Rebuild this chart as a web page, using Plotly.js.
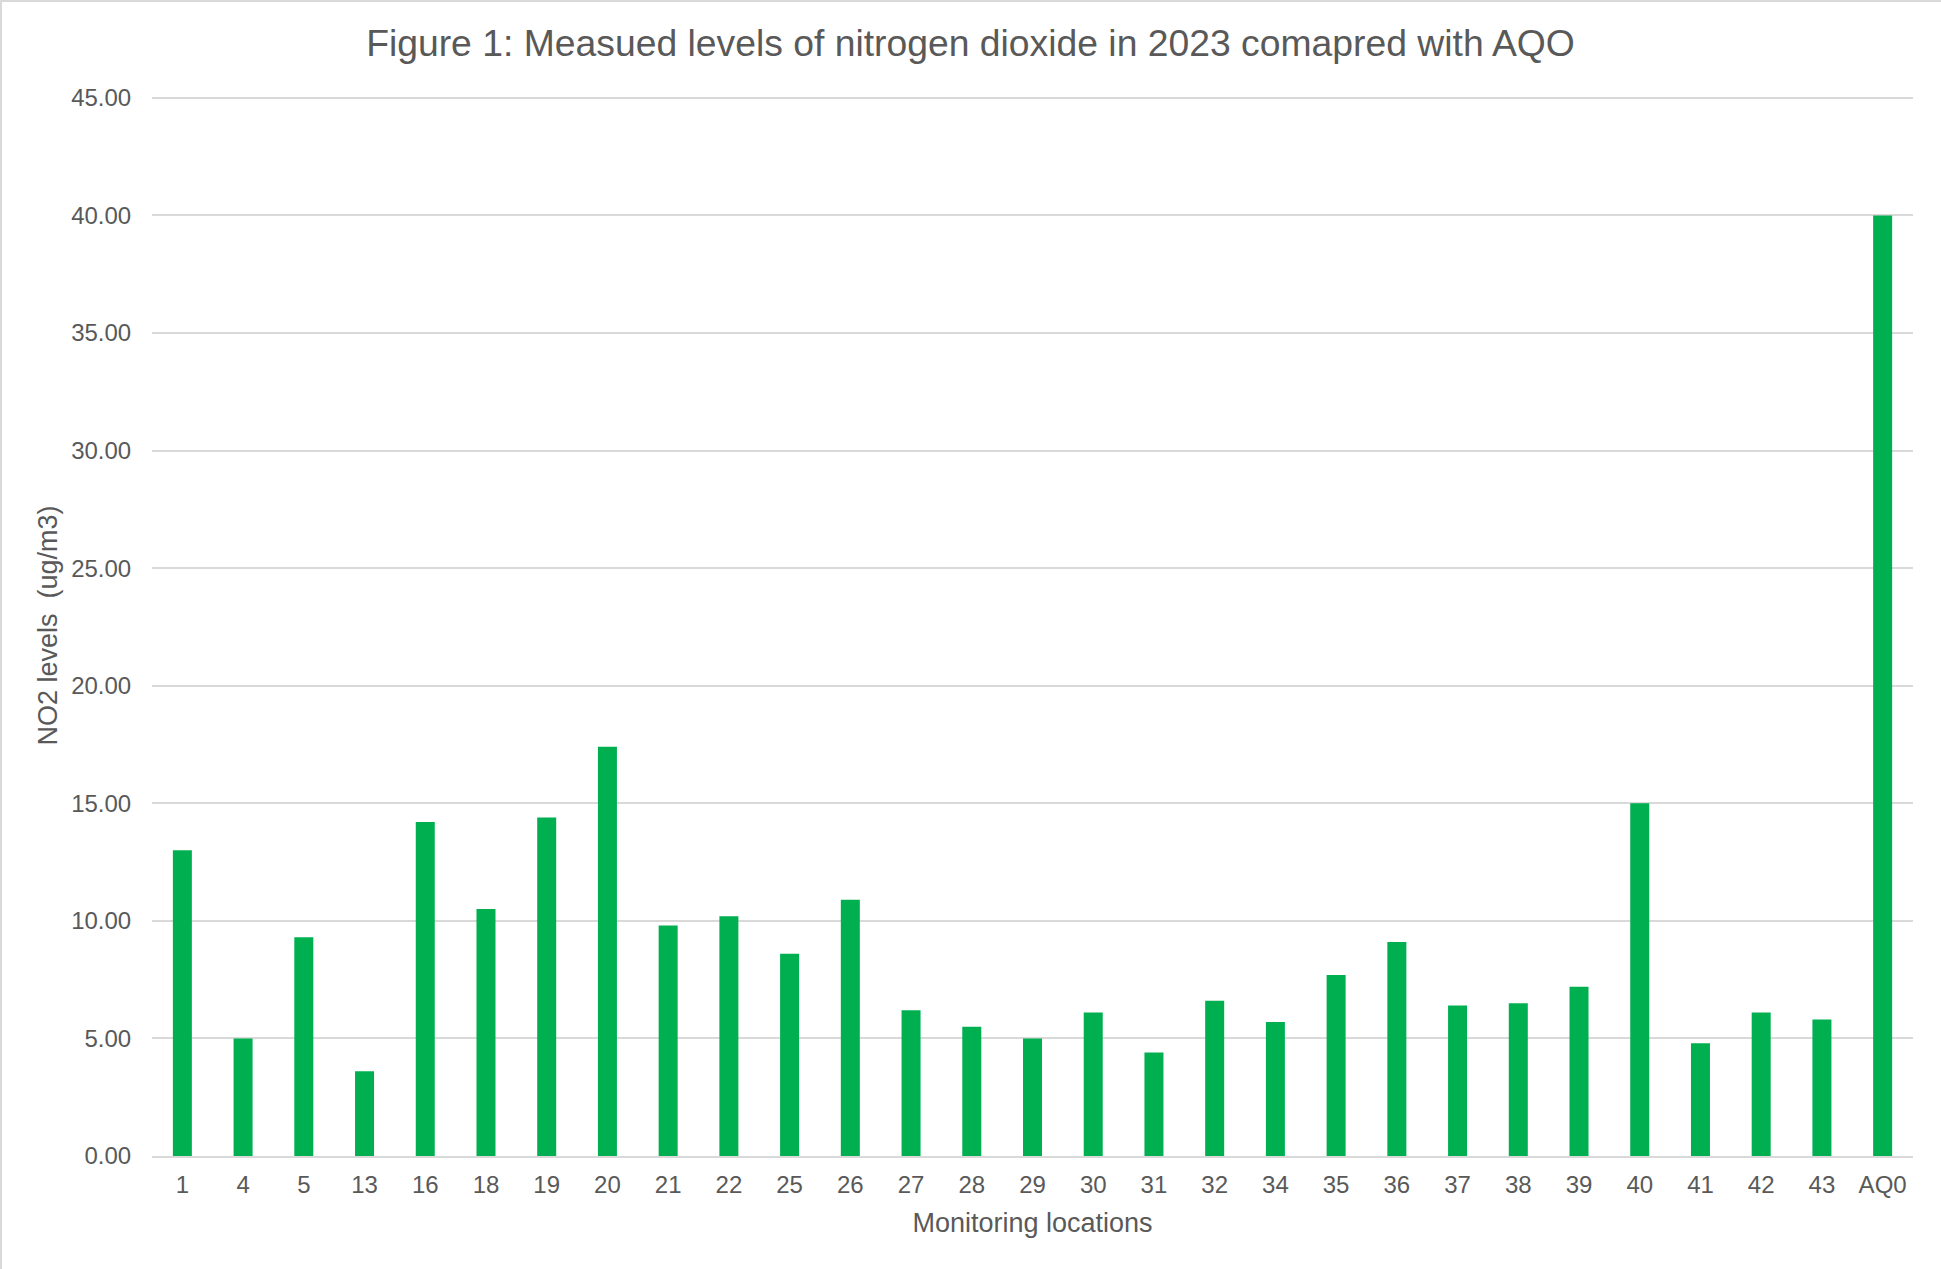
<!DOCTYPE html>
<html>
<head>
<meta charset="utf-8">
<script src="https://cdn.plot.ly/plotly-3.0.1.min.js"></script>
<style>
  html, body { margin: 0; padding: 0; background: #ffffff; }
  #wrap { position: relative; width: 1941px; height: 1269px; }
  #chart { position: absolute; left: 0; top: 0; width: 1941px; height: 1269px; }
  #frame { position: absolute; left: 0; top: 0; width: 1941px; height: 1269px;
           border-left: 2px solid #D9D9D9; border-top: 2px solid #D9D9D9;
           box-sizing: border-box; pointer-events: none; }
</style>
</head>
<body>
<div id="wrap">
  <div id="chart"></div>
  <div id="frame"></div>
</div>
<script>
const locations = ["1","4","5","13","16","18","19","20","21","22","25","26","27","28","29","30","31","32","34","35","36","37","38","39","40","41","42","43","AQ0"];
const no2Levels = [13.0,5.0,9.3,3.6,14.2,10.5,14.4,17.4,9.8,10.2,8.6,10.9,6.2,5.5,5.0,6.1,4.4,6.6,5.7,7.7,9.1,6.4,6.5,7.2,15.0,4.8,6.1,5.8,40.0];
const yTicks = [0,5,10,15,20,25,30,35,40,45];
const yTickText = yTicks.map(v => v.toFixed(2));

const FONT = "Liberation Sans, Arial, sans-serif";
const TXT = "#595959";

const trace = {
  type: "bar",
  x: locations,
  y: no2Levels,
  marker: { color: "#00B050", line: { width: 0 } },
  hoverinfo: "x+y"
};

const layout = {
  width: 1941,
  height: 1269,
  paper_bgcolor: "#ffffff",
  plot_bgcolor: "#ffffff",
  margin: { l: 152, r: 28, t: 94.6, b: 113, pad: 0 },
  bargap: 0.687,
  showlegend: false,
  font: { family: FONT, color: TXT },
  title: {
    text: "Figure 1: Measued levels of nitrogen dioxide in 2023 comapred with AQO",
    font: { family: FONT, size: 37.3, color: TXT },
    xref: "container", yref: "container",
    x: 0.5, xanchor: "center",
    y: 1 - 43 / 1269, yanchor: "middle"
  },
  xaxis: {
    type: "category",
    tickfont: { family: FONT, size: 24, color: TXT },
    ticks: "outside", ticklen: 6, tickcolor: "rgba(0,0,0,0)",
    showgrid: false,
    showline: true, linecolor: "#D9D9D9", linewidth: 2,
    automargin: false,
    title: {
      text: "Monitoring locations",
      font: { family: FONT, size: 27, color: TXT },
      standoff: 16
    }
  },
  yaxis: {
    range: [0, 45.12],
    tickvals: yTicks,
    ticktext: yTickText,
    tickfont: { family: FONT, size: 24, color: TXT },
    ticks: "outside", ticklen: 15, tickcolor: "rgba(0,0,0,0)",
    showgrid: true, gridcolor: "#D9D9D9", gridwidth: 2,
    zeroline: false,
    showline: false,
    automargin: false,
    title: {
      text: "NO2 levels  (ug/m3)",
      font: { family: FONT, size: 27, color: TXT },
      standoff: 5
    }
  }
};

Plotly.newPlot("chart", [trace], layout, { displayModeBar: false, staticPlot: true });
</script>
</body>
</html>
